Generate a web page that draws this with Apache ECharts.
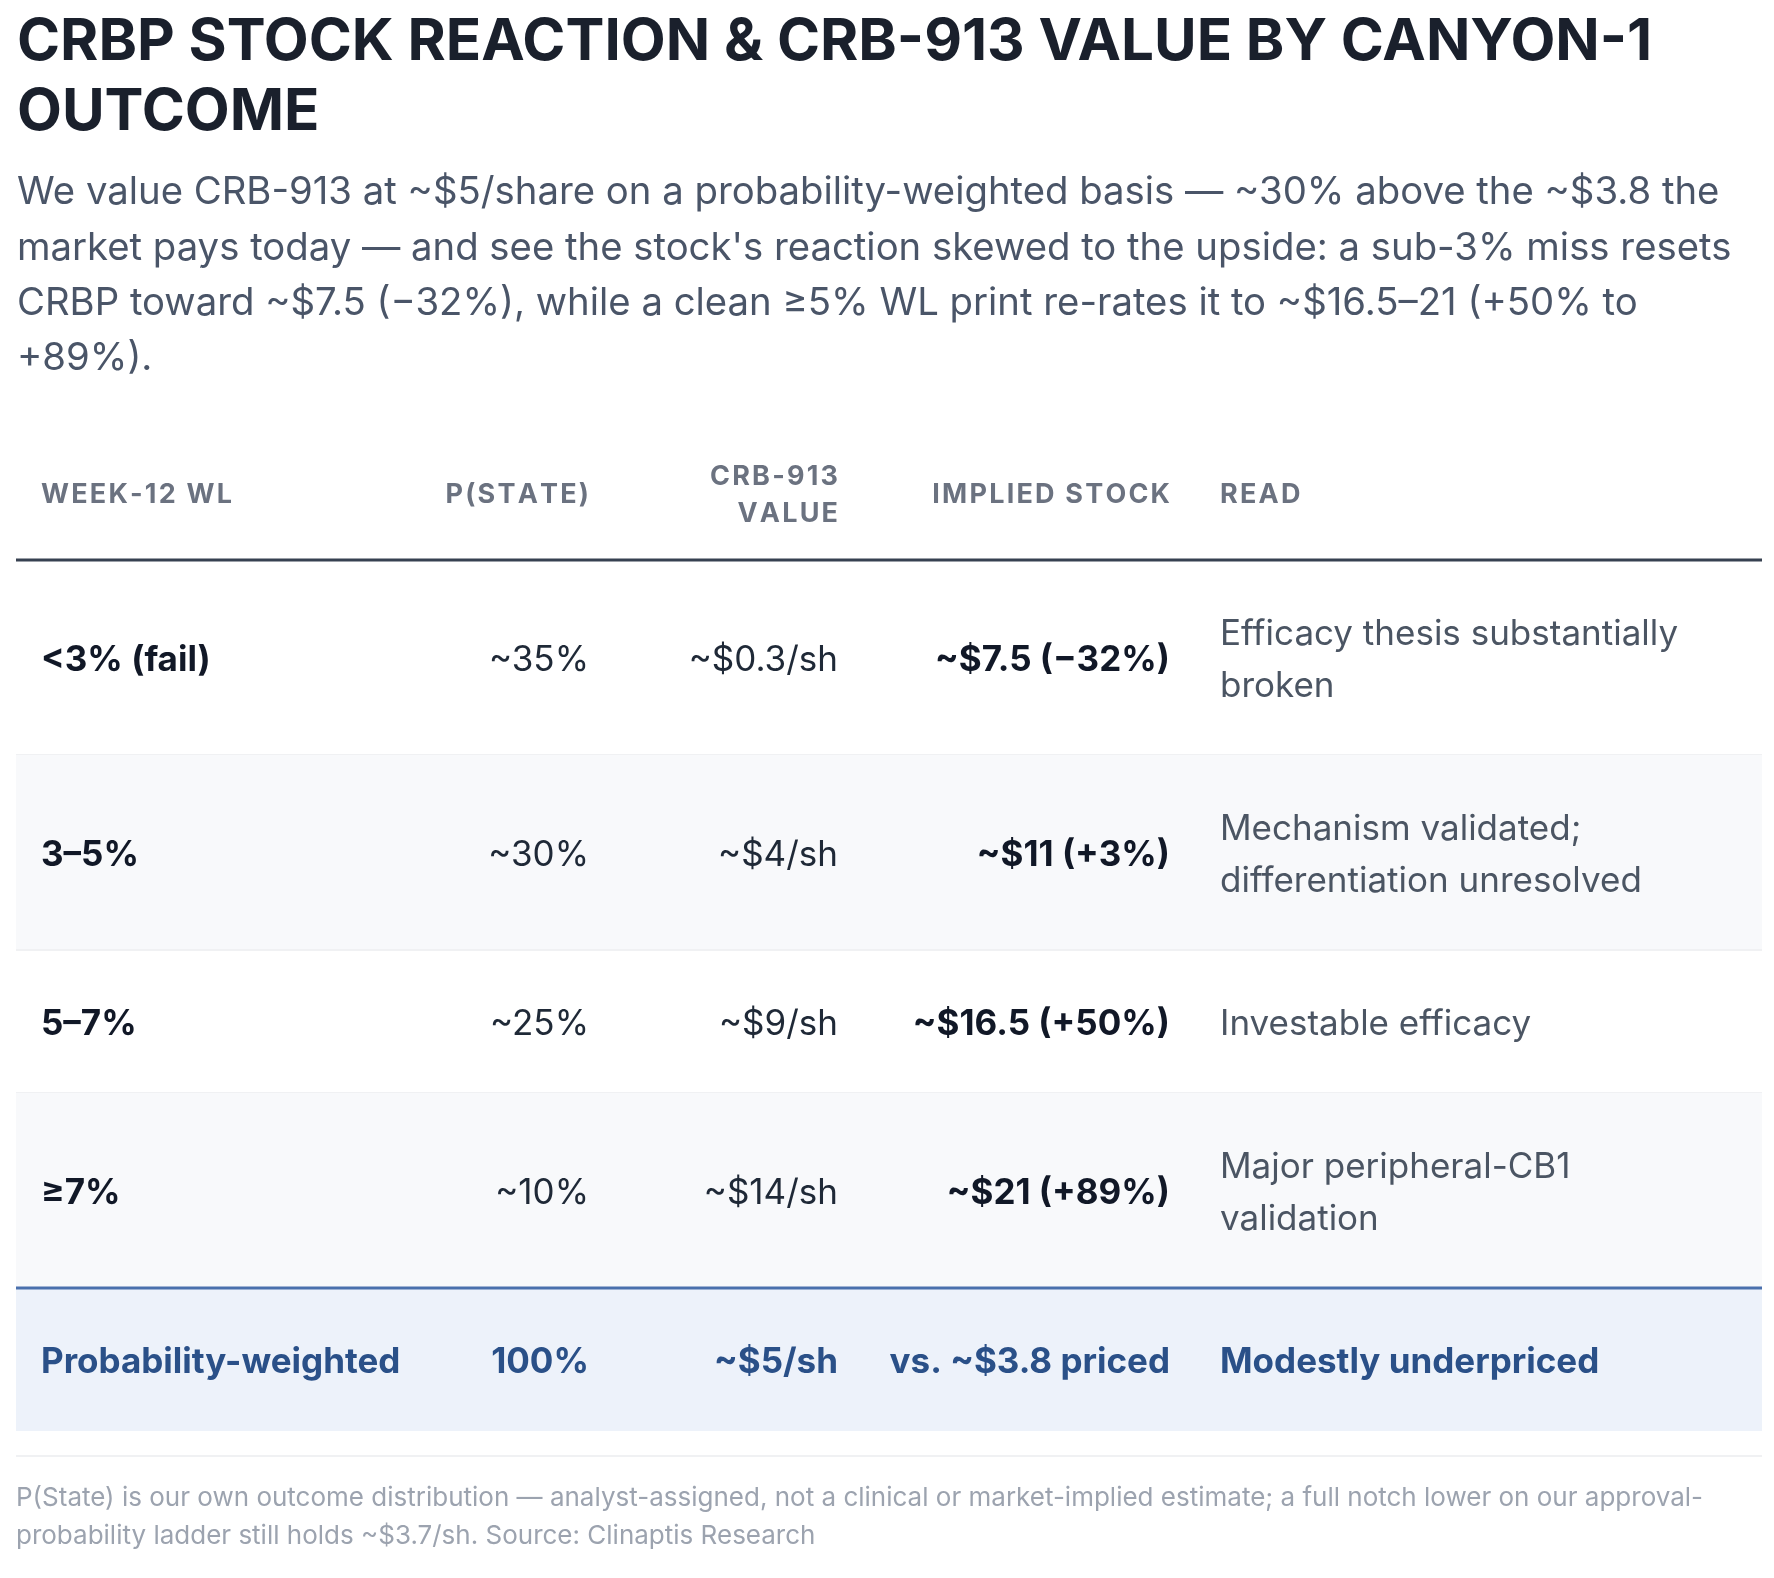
<!DOCTYPE html>
<html>
<head>
<meta charset="utf-8">
<title>CRBP stock reaction by CANYON-1 outcome</title>
<script src="https://cdn.jsdelivr.net/npm/echarts@6/dist/echarts.min.js"></script>
<style>
html, body { margin: 0; padding: 0; background: #ffffff; }
#main { width: 1774px; height: 1578px; }
</style>
</head>
<body>
<div id="main"></div>
<script>
// texts
var titleText = "CRBP STOCK REACTION & CRB-913 VALUE BY CANYON-1 OUTCOME";
var subText = "We value CRB-913 at ~$5/share on a probability-weighted basis — ~30% above the ~$3.8 the market pays today — and see the stock's reaction skewed to the upside: a sub-3% miss resets CRBP toward ~$7.5 (−32%), while a clean ≥5% WL print re-rates it to ~$16.5–21 (+50% to +89%).";
var noteText = "P(State) is our own outcome distribution — analyst-assigned, not a clinical or market-implied estimate; a full notch lower on our approval-probability ladder still holds ~$3.7/sh. Source: Clinaptis Research";

// table data
var headers = ['WEEK-12 WL', 'P(STATE)', 'CRB-913 VALUE', 'IMPLIED STOCK', 'READ'];
var weekWL = ['<3% (fail)', '3–5%', '5–7%', '≥7%'];
var pState = ['~35%', '~30%', '~25%', '~10%'];
var crbValue = ['~$0.3/sh', '~$4/sh', '~$9/sh', '~$14/sh'];
var impliedStock = ['~$7.5 (−32%)', '~$11 (+3%)', '~$16.5 (+50%)', '~$21 (+89%)'];
var readText = ['Efficacy thesis substantially broken', 'Mechanism validated; differentiation unresolved', 'Investable efficacy', 'Major peripheral-CB1 validation'];
var summaryRow = ['Probability-weighted', '100%', '~$5/sh', 'vs. ~$3.8 priced', 'Modestly underpriced'];

// layout (px)
var FONT = "Inter, 'Noto Sans', sans-serif";
var tableLeft = 16, tableTop = 426, tableW = 1746;
var colEdges = [0, 412, 598, 847, 1179, 1746];   // column borders inside the table
var colAlign = ['left', 'right', 'right', 'right', 'left'];
var cellPad = 25, readWrap = 495;
var headPadY = 30, headLineH = 37, headSize = 27, headSpacing = 2.2, headShift = 2;
var bodyPadY = 45.5, bodyLineH = 52, bodySize = 35, bodyShift = 3;
var bodyWeight = ['bold', 'normal', 'normal', 'bold', 'normal'];
var bodyColor = ['#111827', '#1f2937', '#1f2937', '#111827', '#4b5563'];
var titleSize = 58.3, subSize = 38.3, noteSize = 26;

function font(weight, size) { return weight + ' ' + size + 'px ' + FONT; }

var ctx = document.createElement('canvas').getContext('2d');
function spacedWidth(s, f, spacing) {
    ctx.font = f;
    if (!spacing) return ctx.measureText(s).width;
    var w = 0, chars = Array.from(s);
    chars.forEach(function (ch) { w += ctx.measureText(ch).width; });
    return w + spacing * (chars.length - 1);
}
// break at spaces (and after a hyphen followed by a letter, like a browser does)
function wrapText(str, f, maxW, spacing, hyphens) {
    var tokens = [];
    str.split(' ').forEach(function (w) {
        var parts = hyphens ? w.split(/(?<=-)(?=[A-Za-z])/) : [w];
        parts.forEach(function (p, k) { tokens.push({ t: p, sp: k === 0 }); });
    });
    var lines = [], cur = '';
    tokens.forEach(function (tk) {
        var next = cur ? cur + (tk.sp ? ' ' : '') + tk.t : tk.t;
        if (cur && spacedWidth(next, f, spacing) > maxW) { lines.push(cur); cur = tk.t; }
        else cur = next;
    });
    if (cur) lines.push(cur);
    return lines;
}
function spacedChildren(str, x, y, align, f, fill, spacing) {
    var total = spacedWidth(str, f, spacing);
    var cx = align === 'right' ? x - total : x;
    return Array.from(str).map(function (ch) {
        var el = { type: 'text', silent: true,
            style: { text: ch, x: cx, y: y, font: f, fill: fill, align: 'left', verticalAlign: 'middle' } };
        ctx.font = f;
        cx += ctx.measureText(ch).width + spacing;
        return el;
    });
}

// rows of the table, with wrapped lines per cell
var rows = [{ kind: 'head', cells: headers }];
for (var i = 0; i < weekWL.length; i++) {
    rows.push({ kind: 'body', cells: [weekWL[i], pState[i], crbValue[i], impliedStock[i], readText[i]] });
}
rows.push({ kind: 'total', cells: summaryRow });

var rowTop = [], rowH = [], acc = 0;
rows.forEach(function (r) {
    var n = 1;
    r.lines = r.cells.map(function (c, k) {
        var lines;
        if (r.kind === 'head') {
            lines = wrapText(c, font('bold', headSize), colEdges[k + 1] - colEdges[k] - 2 * cellPad, headSpacing, false);
        } else if (k === 4) {
            lines = wrapText(c, font(r.kind === 'total' ? 'bold' : 'normal', bodySize), readWrap, 0, false);
        } else {
            lines = [c];
        }
        n = Math.max(n, lines.length);
        return lines;
    });
    var h = r.kind === 'head' ? 2 * headPadY + n * headLineH : 2 * bodyPadY + n * bodyLineH;
    rowTop.push(acc); rowH.push(h); acc += h;
});
var tableH = acc;

function renderRow(params, api) {
    var idx = api.value(0);
    var r = rows[idx];
    var p0 = api.coord([0, rowTop[idx]]);
    var p1 = api.coord([tableW, rowTop[idx] + rowH[idx]]);
    var yMid = (p0[1] + p1[1]) / 2;
    var children = [];
    if (r.kind === 'total') {
        children.push({ type: 'rect', shape: { x: p0[0], y: p0[1], width: p1[0] - p0[0], height: p1[1] - p0[1] }, style: { fill: '#edf2fa' } });
        children.push({ type: 'rect', shape: { x: p0[0], y: p0[1] - 1.5, width: p1[0] - p0[0], height: 3 }, style: { fill: '#4a70ad' } });
    } else if (r.kind === 'body') {
        if (idx % 2 === 0) {
            children.push({ type: 'rect', shape: { x: p0[0], y: p0[1], width: p1[0] - p0[0], height: p1[1] - p0[1] }, style: { fill: '#f8f9fb' } });
        }
        if (idx < rows.length - 2) {
            children.push({ type: 'rect', shape: { x: p0[0], y: p1[1] - 1, width: p1[0] - p0[0], height: 2 }, style: { fill: '#f0f1f3' } });
        }
    } else {
        children.push({ type: 'rect', shape: { x: p0[0], y: p1[1] - 1.5, width: p1[0] - p0[0], height: 3 }, style: { fill: '#374151' } });
    }
    r.lines.forEach(function (lines, k) {
        var x = colAlign[k] === 'left' ? api.coord([colEdges[k] + cellPad, 0])[0] : api.coord([colEdges[k + 1] - cellPad, 0])[0];
        if (r.kind === 'head') {
            var y0 = yMid + headShift - (lines.length - 1) * headLineH / 2;
            lines.forEach(function (ln, j) {
                children = children.concat(spacedChildren(ln, x, y0 + j * headLineH, colAlign[k], font('bold', headSize), '#6b7280', headSpacing));
            });
        } else {
            var isTotal = r.kind === 'total';
            children.push({ type: 'text', silent: true, style: {
                text: lines.join('\n'), x: x, y: yMid + bodyShift, align: colAlign[k], verticalAlign: 'middle',
                font: font(isTotal ? 'bold' : bodyWeight[k], bodySize), lineHeight: bodyLineH,
                fill: isTotal ? '#2a5088' : bodyColor[k]
            } });
        }
    });
    return { type: 'group', children: children };
}

var titleLines = wrapText(titleText, font('bold', titleSize), 1740, 0, true);
var subLines = wrapText(subText, font('normal', subSize), 1745, 0, true);
var noteLines = wrapText(noteText, font('normal', noteSize), 1745, 0, true);
var footTop = tableTop + tableH + 25;

var myChart = echarts.init(document.getElementById('main'));
var option = {
    backgroundColor: '#ffffff',
    animation: false,
    grid: { left: tableLeft, top: tableTop, width: tableW, height: tableH, outerBoundsMode: 'none' },
    xAxis: { type: 'value', min: 0, max: tableW, show: false },
    yAxis: { type: 'value', min: 0, max: tableH, inverse: true, show: false },
    graphic: { elements: [
        { type: 'text', left: 17, top: 7, silent: true,
          style: { text: titleLines.join('\n'), font: font('bold', titleSize), fill: '#1a202c', lineHeight: 70 } },
        { type: 'text', left: 17, top: 165, silent: true,
          style: { text: subLines.join('\n'), font: font('normal', subSize), fill: '#4a5568', lineHeight: 55.4 } },
        { type: 'rect', left: tableLeft, top: footTop - 1, silent: true,
          shape: { width: tableW, height: 2 }, style: { fill: '#f0f1f3' } },
        { type: 'text', left: 16, top: footTop + 23, silent: true,
          style: { text: noteLines.join('\n'), font: font('normal', noteSize), fill: '#9ca3af', lineHeight: 38 } }
    ] },
    series: [{
        type: 'custom',
        coordinateSystem: 'cartesian2d',
        renderItem: renderRow,
        clip: false,
        data: rows.map(function (r, i) { return [i, rowTop[i]]; })
    }]
};
myChart.setOption(option);
window.addEventListener('resize', function () { myChart.resize(); });
</script>
</body>
</html>
